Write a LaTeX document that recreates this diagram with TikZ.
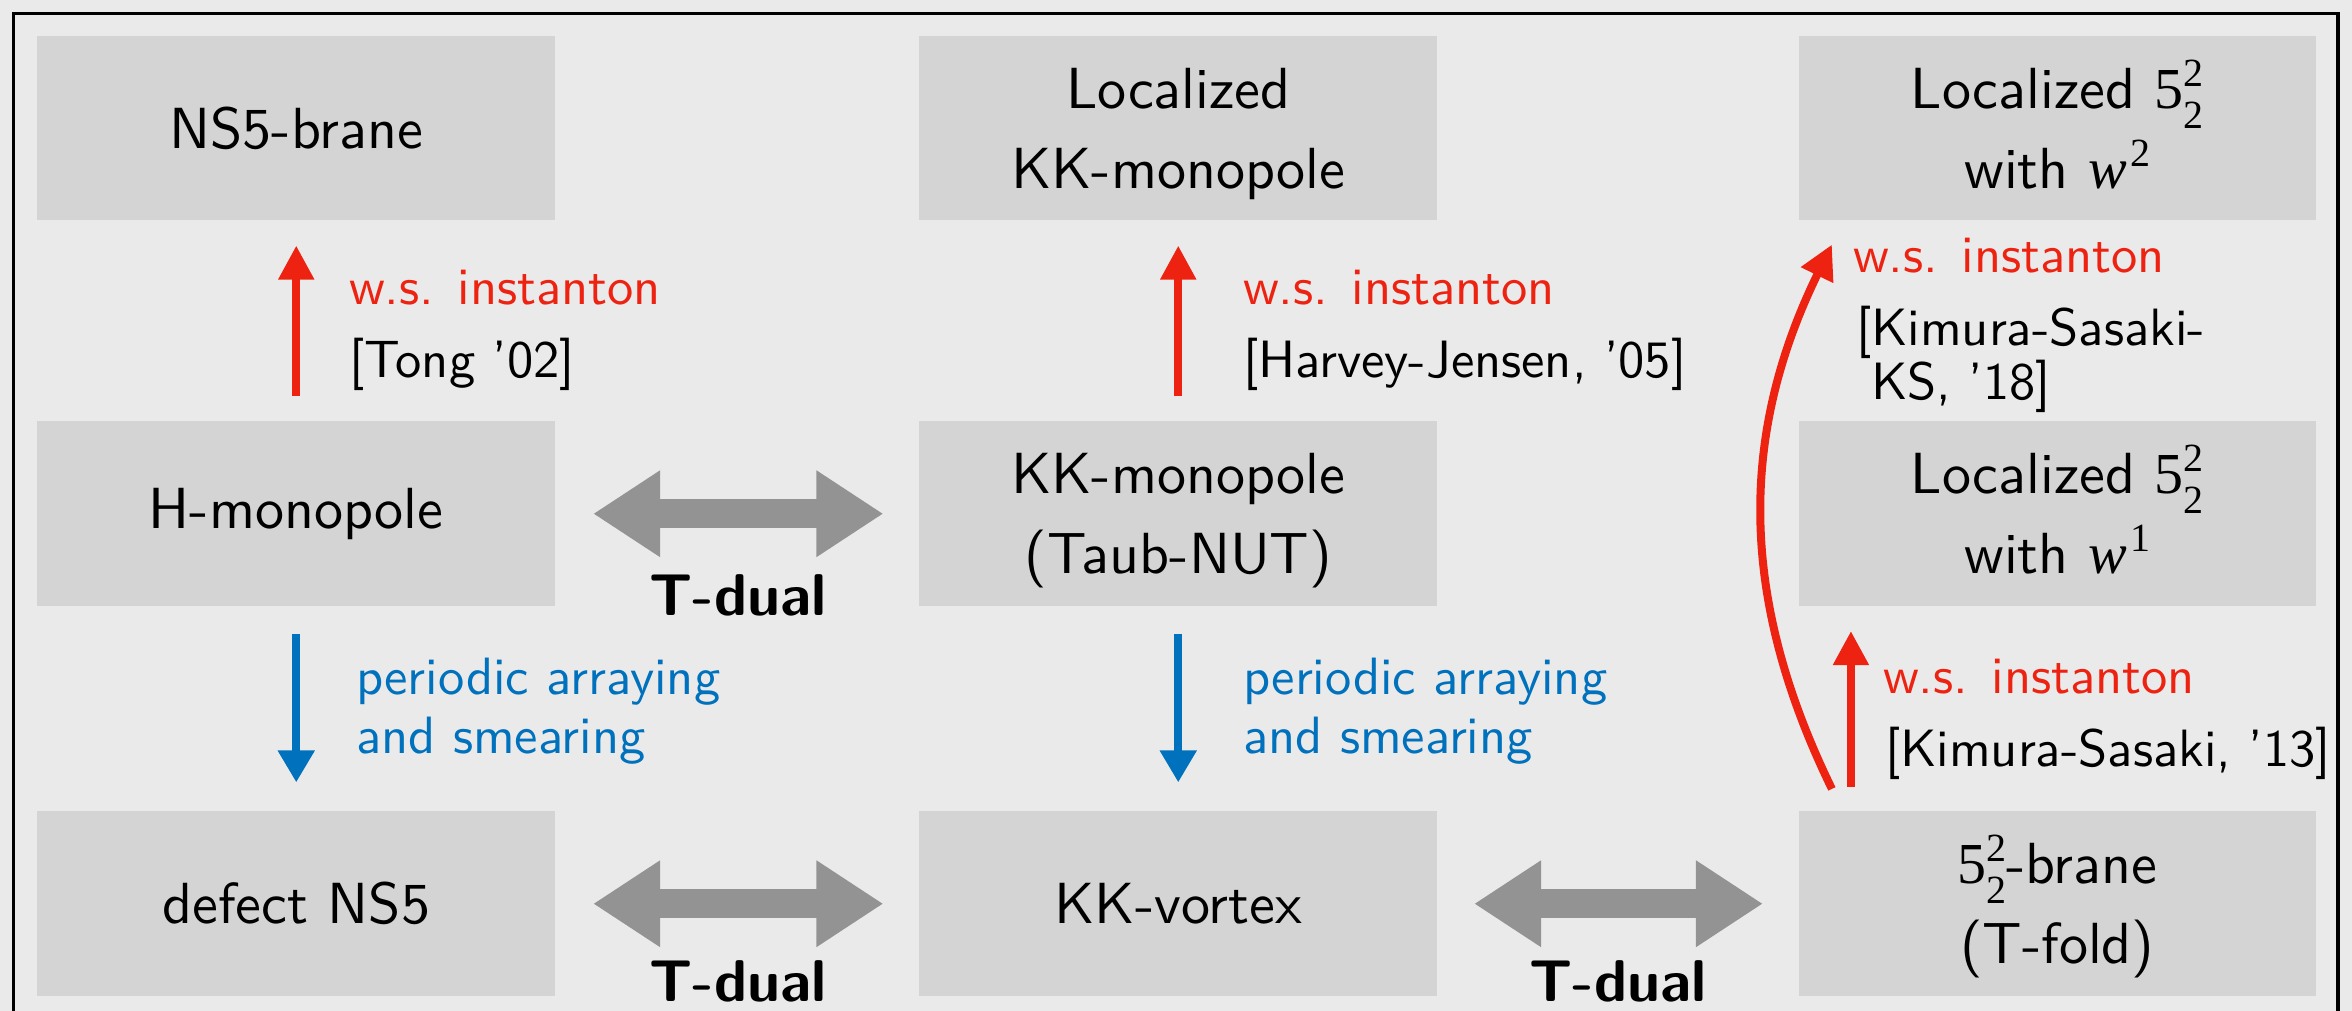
\RequirePackage{fix-cm}
\documentclass[tikz,border=0pt]{standalone}
\usepackage{fontspec}
\newfontfamily\tms{Liberation Serif}
\usetikzlibrary{arrows.meta}
\definecolor{bg}{HTML}{EAEAEA}
\definecolor{boxc}{HTML}{D4D4D4}
\definecolor{myred}{HTML}{EE2211}
\definecolor{myblue}{HTML}{0071BC}
\definecolor{mygray}{HTML}{939393}
\newcommand\scrtxt[1]{{\tms\fontsize{7.4}{8}\selectfont #1}}
\newcommand\fivetwo{{\tms 5}\rlap{\raisebox{4.07pt}{\scrtxt{2}}}\raisebox{-3.7pt}{\scrtxt{2}}}
\newcommand\wpow[1]{{\tms\itshape w}\kern0.6pt\raisebox{4.07pt}{\scrtxt{#1}}}
\newcommand\topstr{\rule{0pt}{10.18pt}}
\newcommand\botstr{\rule[-2.78pt]{0pt}{2.78pt}}
\tikzset{
  box/.style={fill=boxc, minimum width=95.74pt, minimum height=34.13pt, inner sep=0pt, align=center, font=\sffamily\fontsize{10.73}{14.8}\selectfont},
  lab/.style={anchor=base west, inner sep=0pt, font=\sffamily\fontsize{9.71}{12}\selectfont},
  redarr/.style={draw=myred, line width=1.48pt, -{Triangle[length=6.29pt,width=6.29pt]}},
  bluearr/.style={draw=myblue, line width=1.48pt, -{Triangle[length=5.92pt,width=6.48pt]}},
  tdual/.style={draw=mygray, line width=5.37pt, {Triangle[length=12.4pt,width=15.17pt]}-{Triangle[length=12.4pt,width=15.17pt]}},
  tlab/.style={anchor=base, inner sep=0pt, font=\sffamily\bfseries\fontsize{10.9}{13}\selectfont}
}
\begin{document}
\begin{tikzpicture}[x=0.185pt,y=-0.185pt]
\useasboundingbox (0,0) rectangle (2352,1011);
\clip (0,0) rectangle (2352,1011);
\fill[bg] (0,0) rectangle (2352,1011);
\draw[line width=0.65pt] (13.5,1060) -- (13.5,13.5) -- (2338,13.5) -- (2338,1060);
% boxes
\node[box] (ns5) at (296.25,128.25) {NS5-brane};
\node[box] (lkk) at (1178.25,128.25) {\topstr Localized\\KK-monopole\botstr};
\node[box] (l2) at (2057.25,128.25) {\topstr Localized \fivetwo\\with \wpow{2}\botstr};
\node[box] (hm) at (296.25,513.75) {H-monopole};
\node[box] (kk) at (1178.25,513.75) {\topstr KK-monopole\\(Taub-NUT)\botstr};
\node[box] (l1) at (2057.25,513.75) {\topstr Localized \fivetwo\\with \wpow{1}\botstr};
\node[box] (dns) at (296.25,903.75) {defect NS5};
\node[box] (kkv) at (1178.25,903.75) {KK-vortex};
\node[box] (t52) at (2057.25,903.75) {\topstr\fivetwo-brane\\(T-fold)\botstr};
% arrows
\draw[redarr, shorten <=4.44pt, shorten >=4.44pt] (hm) -- (ns5);
\draw[redarr, shorten <=4.44pt, shorten >=4.44pt] (kk) -- (lkk);
\draw[bluearr, shorten <=5pt, shorten >=5.18pt] (hm) -- (dns);
\draw[bluearr, shorten <=5pt, shorten >=5.18pt] (kk) -- (kkv);
\draw[tdual, shorten <=6.85pt, shorten >=6.48pt] (hm) -- (kk);
\draw[tdual, shorten <=6.85pt, shorten >=6.48pt] (dns) -- (kkv);
\draw[tdual, shorten <=6.66pt, shorten >=6.38pt] (kkv) -- (t52);
\draw[redarr] ([xshift=9.9pt,yshift=4.35pt]t52.north west) -- ([xshift=9.9pt,yshift=-4.44pt]l1.south west);
\draw[redarr] ([xshift=6.38pt,yshift=3.98pt]t52.north west) to[bend left=26] ([xshift=6.38pt,yshift=-4.26pt]l2.south west);
% labels
\node[lab, text=myred] (wsa) at (348,305) {w.s. instanton};
\node[lab] (ra) at (348,378) {[Tong '02]};
\node[lab, text=myred] (wsb) at (1242,305) {w.s. instanton};
\node[lab] (rb) at (1242,378) {[Harvey-Jensen, '05]};
\node[lab, text=myblue] (pa) at (355,695) {periodic arraying};
\node[lab, text=myblue] (pb) at (355,754) {and smearing};
\node[lab, text=myblue] (pc) at (1242,695) {periodic arraying};
\node[lab, text=myblue] (pd) at (1242,754) {and smearing};
\node[lab, text=myred] (wsc) at (1852,273) {w.s. instanton};
\node[lab] (rc1) at (1855,346) {[Kimura-Sasaki-};
\node[lab] (rc2) at (1855,400) {\phantom{[}KS, '18]};
\node[lab, text=myred] (wsd) at (1882,694) {w.s. instanton};
\node[lab] (rd) at (1884,767) {[Kimura-Sasaki, '13]};
\node[tlab] (td1) at (738,616) {T-dual};
\node[tlab] (td2) at (738,1002) {T-dual};
\node[tlab] (td3) at (1618,1002) {T-dual};
\end{tikzpicture}
\end{document}
